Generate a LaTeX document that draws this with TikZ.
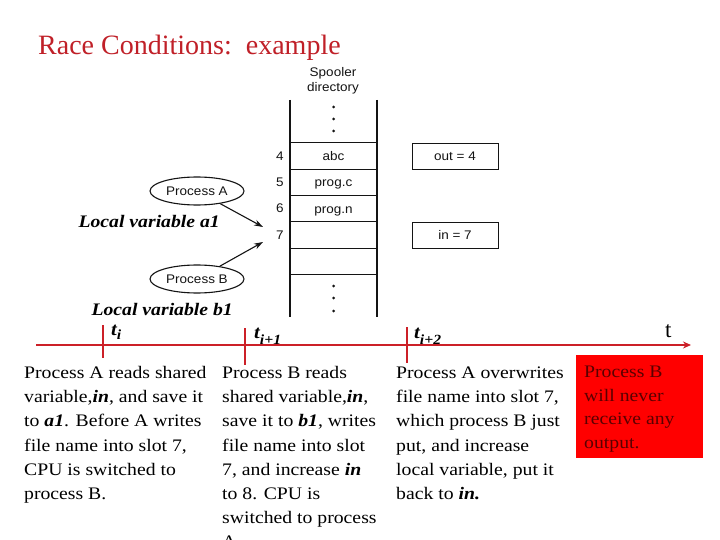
\documentclass[tikz,border=0pt]{standalone}
\usepackage{fontspec}
\setmainfont{Liberation Serif}
\newfontfamily\bodyfont{Liberation Serif}[FakeStretch=1.12]
\newfontfamily\diagfont{Liberation Sans}[FakeStretch=1.08]
\usetikzlibrary{shapes.geometric,arrows.meta}
\definecolor{titlered}{RGB}{192,32,40}
\definecolor{linered}{RGB}{204,32,40}
\definecolor{boxtext}{RGB}{90,0,0}
\definecolor{ink}{RGB}{20,20,20}
\newcommand\bfit[1]{\textbf{\textit{#1}}}
\begin{document}
\begin{tikzpicture}[x=1pt,y=-1pt,
  body/.style={anchor=north west, inner sep=0pt, align=left, font=\bodyfont\fontsize{17.6pt}{24.2pt}\selectfont},
  redtxt/.style={anchor=north west, inner sep=0pt, align=left, text=boxtext, font=\bodyfont\fontsize{17.6pt}{23.4pt}\selectfont},
  localvar/.style={anchor=base east, inner sep=0pt, font=\bodyfont\bfseries\itshape\fontsize{17.6pt}{20pt}\selectfont},
  tlabel/.style={anchor=base west, inner sep=0pt, font=\bodyfont\bfseries\itshape\fontsize{18.5pt}{20pt}\selectfont},
  diag/.style={font=\diagfont\fontsize{12.5pt}{15.5pt}\selectfont, text=ink},
  cell/.style={diag, draw=ink, line width=0.9pt, minimum width=87pt, minimum height=26.2pt, inner sep=0pt, text height=8.9pt, text depth=0pt},
  regbox/.style={cell, minimum width=86pt, minimum height=26pt},
  proc/.style={diag, ellipse, draw=ink, line width=1.1pt, minimum width=94pt, minimum height=28pt, inner sep=0pt},
  num/.style={diag, inner sep=0pt},
  pointer/.style={draw=ink, line width=1.1pt, -{Stealth[length=9pt,width=6pt]}},
  timeline/.style={draw=linered, line width=2.7pt, -{Stealth[length=8pt,width=7pt]}},
  tick/.style={draw=linered, line width=2.7pt},
  dot/.style={fill=ink, draw=none}
]
\useasboundingbox (0,0) rectangle (720,540);
\fill[white] (0,0) rectangle (720,540);

% title
\node[anchor=base west, inner sep=0pt, text=titlered, font=\fontsize{28pt}{32pt}\selectfont] (title) at (38,54.3) {Race Conditions:\ \ example};

% spooler directory
\node[diag, anchor=north, align=center, inner sep=0pt] (spool) at (333,65) {\strut Spooler\\directory};
\draw[ink, line width=1.4pt] (290,100) -- (290,317);
\draw[ink, line width=1.4pt] (377,100) -- (377,317);
\foreach \yy in {107,119,131,286,298,311} \fill[dot] (333.5,\yy) circle (1.5pt);
\node[cell] (c4) at (333.5,156) {abc};
\node[cell] (c5) at (333.5,182.3) {prog.c};
\node[cell] (c6) at (333.5,208.6) {prog.n};
\node[cell] (c7) at (333.5,234.9) {};
\node[cell] (c8) at (333.5,261.2) {};
\node[num] (n4) at (280,156) {4};
\node[num] (n5) at (280,182.3) {5};
\node[num] (n6) at (280,208.6) {6};
\node[num] (n7) at (280,234.9) {7};
\node[regbox] (out) at (455,156) {out = 4};
\node[regbox] (in) at (455,235) {in = 7};

% processes
\node[proc] (pa) at (197,191) {Process A};
\node[proc] (pb) at (197,279) {Process B};
\coordinate (a7) at (263,227);
\coordinate (b7) at (263,242);
\draw[pointer] (pa) -- (a7);
\draw[pointer] (pb) -- (b7);
\node[localvar] (la) at (220,227) {Local variable a1};
\node[localvar] (lb) at (233,315.7) {Local variable b1};

% timeline
\coordinate (tstart) at (36,345);
\coordinate (tend) at (691,345);
\draw[timeline] (tstart) -- (tend);
\draw[tick] (103,325) -- (103,358);
\draw[tick] (245,328) -- (245,365);
\draw[tick] (407,327) -- (407,363);
\node[tlabel] (ti) at (111,335) {t\raisebox{-4pt}{\fontsize{14pt}{14pt}\selectfont i}};
\node[tlabel] (ti1) at (254,338) {t\raisebox{-6pt}{\fontsize{14pt}{14pt}\selectfont i+1}};
\node[tlabel] (ti2) at (414,338) {t\raisebox{-6pt}{\fontsize{14pt}{14pt}\selectfont i+2}};
\node[anchor=base west, inner sep=0pt, font=\fontsize{23pt}{26pt}\selectfont] (taxis) at (665,337) {t};

% columns
\node[body] (col1) at (24,361.4) {\strut Process A reads shared\\
variable,\bfit{in}, and save it\\
to \bfit{a1}. Before A writes\\
file name into slot 7,\\
CPU is switched to\\
process B.};
\node[body] (col2) at (222,361.4) {\strut Process B reads\\
shared variable,\bfit{in},\\
save it to \bfit{b1}, writes\\
file name into slot\\
7, and increase \bfit{in}\\
to 8. CPU is\\
switched to process\\
A};
\node[body] (col3) at (396,361.4) {\strut Process A overwrites\\
file name into slot 7,\\
which process B just\\
put, and increase\\
local variable, put it\\
back to \bfit{in.}};

% red box
\node[fill=red, draw=none, minimum width=127pt, minimum height=103pt, inner sep=0pt, anchor=north west] (redbox) at (576,355) {};
\node[redtxt] (redtext) at (584,361.3) {\strut Process B\\ will never\\ receive any\\ output.};
\end{tikzpicture}
\end{document}
